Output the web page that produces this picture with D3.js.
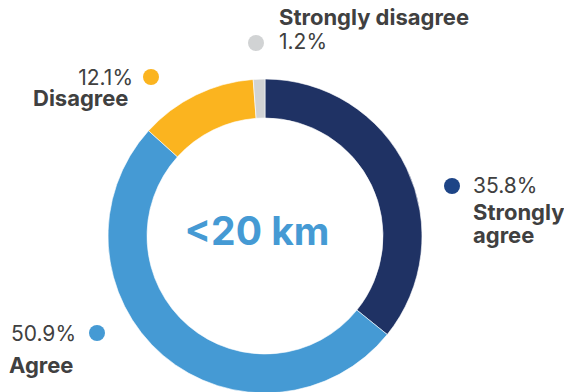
<!DOCTYPE html>
<html>
<head>
<meta charset="utf-8">
<script src="https://cdn.jsdelivr.net/npm/d3@7"></script>
<style>
  html, body { margin: 0; padding: 0; background: #fff; }
  svg { display: block; }
  text { font-family: Inter, Roboto, "Noto Sans", sans-serif; }
</style>
</head>
<body>
<svg id="chart" width="564" height="392"></svg>
<script>
// Survey responses, distance band "<20 km"
const categories = ["Strongly agree", "Agree", "Disagree", "Strongly disagree"];
const values = [35.8, 50.9, 12.1, 1.2];
const centerLabel = "<20 km";

const colors = ["#1f3264", "#459ad4", "#fbb41f", "#d1d3d4"];
const dotColors = ["#1d4486", "#459ad4", "#fbb41f", "#d1d3d4"];

// Label layout: dot position, percentage anchor, name anchor and line breaks
const labelLayout = [
  { dot: [452, 186], pctX: 473, pctAnchor: "start", pctY: 193, nameX: 473, nameY: 220, lines: ["Strongly", "agree"] },
  { dot: [97, 333], pctX: 76, pctAnchor: "end", pctY: 341, nameX: 9, nameY: 373, lines: ["Agree"] },
  { dot: [151, 77], pctX: 133, pctAnchor: "end", pctY: 85, nameX: 33, nameY: 105.5, lines: ["Disagree"] },
  { dot: [256, 43], pctX: 279, pctAnchor: "start", pctY: 49, nameX: 279, nameY: 25, lines: ["Strongly disagree"] }
];

const svg = d3.select("#chart");
const cx = 265, cy = 236, rOuter = 157, rInner = 118;

const pie = d3.pie().sort(null).value(d => d.value);
const arc = d3.arc().innerRadius(rInner).outerRadius(rOuter);
const data = categories.map((c, i) => ({ name: c, value: values[i], color: colors[i], dot: dotColors[i] }));

const g = svg.append("g").attr("transform", `translate(${cx},${cy})`);
g.selectAll("path")
  .data(pie(data))
  .join("path")
  .attr("d", arc)
  .attr("fill", d => d.data.color)
  .attr("stroke", "#fff")
  .attr("stroke-width", 0.6);

g.append("text")
  .attr("text-anchor", "middle")
  .attr("x", -8)
  .attr("y", 9)
  .attr("font-size", 39)
  .attr("font-weight", 700)
  .attr("fill", "#459ad4")
  .text(centerLabel);

const labels = svg.append("g");
data.forEach((d, i) => {
  const L = labelLayout[i];
  labels.append("circle")
    .attr("cx", L.dot[0]).attr("cy", L.dot[1]).attr("r", 8)
    .attr("fill", d.dot);
  labels.append("text")
    .attr("x", L.pctX).attr("y", L.pctY)
    .attr("text-anchor", L.pctAnchor)
    .attr("font-size", 21)
    .attr("fill", "#404040")
    .text(d3.format(".1f")(d.value) + "%");
  const name = labels.append("text")
    .attr("font-size", 22)
    .attr("font-weight", 700)
    .attr("fill", "#404040");
  L.lines.forEach((ln, j) => {
    name.append("tspan")
      .attr("x", L.nameX)
      .attr("y", L.nameY + j * 23)
      .text(ln);
  });
});
</script>
</body>
</html>
